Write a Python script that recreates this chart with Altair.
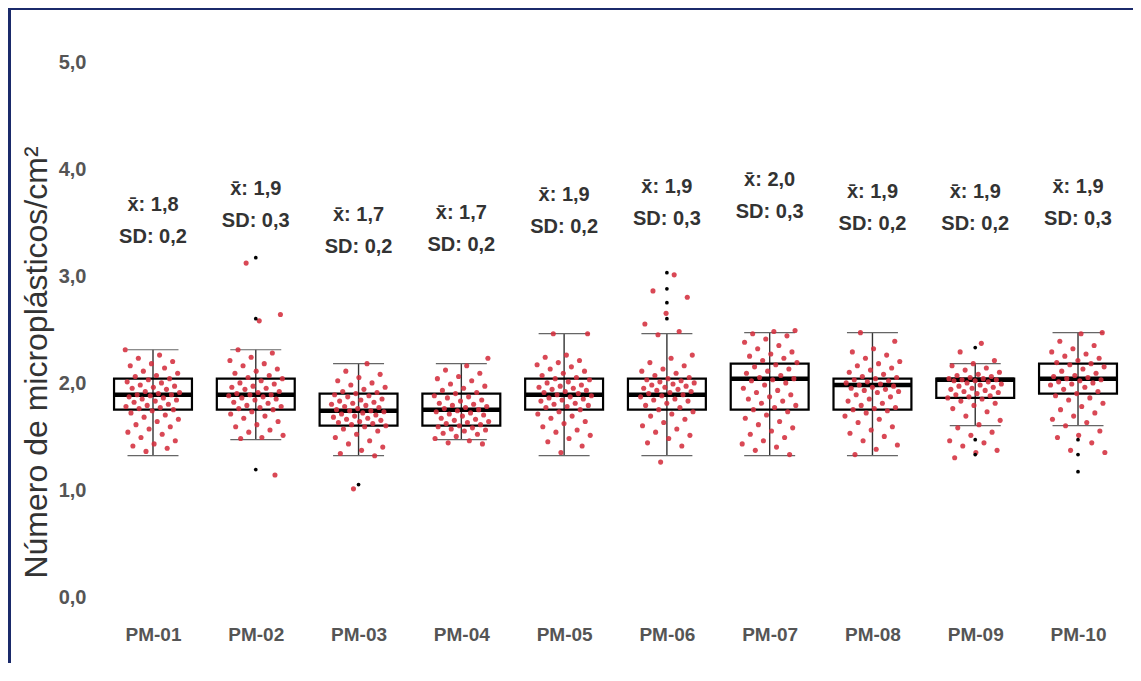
import json
import altair as alt
import pandas as pd

# ---------------- data ----------------
categories = ["PM-01", "PM-02", "PM-03", "PM-04", "PM-05",
              "PM-06", "PM-07", "PM-08", "PM-09", "PM-10"]

lower_whisker = [1.33, 1.48, 1.33, 1.48, 1.33, 1.33, 1.33, 1.33, 1.61, 1.61]
q1 = [1.76, 1.76, 1.61, 1.61, 1.76, 1.76, 1.76, 1.76, 1.87, 1.91]
median = [1.90, 1.90, 1.75, 1.76, 1.90, 1.90, 2.05, 1.99, 2.04, 2.05]
q3 = [2.05, 2.05, 1.91, 1.91, 2.05, 2.05, 2.19, 2.05, 2.05, 2.19]
upper_whisker = [2.32, 2.32, 2.19, 2.19, 2.47, 2.47, 2.48, 2.48, 2.19, 2.48]

mean_vals = [1.8, 1.9, 1.7, 1.7, 1.9, 1.9, 2.0, 1.9, 1.9, 1.9]
sd_vals = [0.2, 0.3, 0.2, 0.2, 0.2, 0.3, 0.3, 0.2, 0.2, 0.3]
annot_y = [3.67, 3.82, 3.58, 3.60, 3.77, 3.84, 3.91, 3.79, 3.79, 3.84]

pm01 = [2.32, 2.27, 2.24, 2.21, 2.19, 2.17, 2.15, 2.12, 2.10, 2.08, 2.07, 2.05, 2.04, 2.02,
        2.01, 1.99, 1.98, 1.97, 1.96, 1.95, 1.93, 1.92, 1.91, 1.90, 1.90, 1.89, 1.88, 1.87,
        1.86, 1.85, 1.84, 1.83, 1.81, 1.80, 1.79, 1.78, 1.77, 1.76, 1.75, 1.73, 1.71, 1.69,
        1.67, 1.65, 1.62, 1.60, 1.58, 1.55, 1.53, 1.50, 1.47, 1.44, 1.42, 1.40, 1.37]
pm02 = [3.13, 2.65, 2.59, 2.32, 2.29, 2.25, 2.22, 2.19, 2.17, 2.14, 2.12, 2.10, 2.08, 2.06,
        2.05, 2.03, 2.01, 2.00, 1.98, 1.97, 1.96, 1.95, 1.93, 1.92, 1.91, 1.90, 1.90, 1.89,
        1.88, 1.87, 1.86, 1.85, 1.83, 1.82, 1.80, 1.79, 1.78, 1.77, 1.76, 1.74, 1.72, 1.70,
        1.68, 1.65, 1.62, 1.60, 1.57, 1.55, 1.52, 1.50, 1.49, 1.15]
pm03 = [2.19, 2.12, 2.09, 2.06, 2.03, 2.01, 1.99, 1.97, 1.95, 1.93, 1.92, 1.91, 1.90, 1.89,
        1.88, 1.86, 1.85, 1.84, 1.83, 1.82, 1.81, 1.80, 1.79, 1.78, 1.77, 1.76, 1.75, 1.75,
        1.74, 1.73, 1.72, 1.71, 1.70, 1.69, 1.68, 1.67, 1.66, 1.65, 1.64, 1.63, 1.62, 1.61,
        1.60, 1.58, 1.56, 1.53, 1.50, 1.47, 1.44, 1.41, 1.38, 1.35, 1.33, 1.02]
pm04 = [2.24, 2.17, 2.13, 2.10, 2.07, 2.05, 2.03, 2.00, 1.98, 1.96, 1.94, 1.92, 1.91, 1.89,
        1.88, 1.87, 1.85, 1.84, 1.82, 1.81, 1.80, 1.79, 1.78, 1.77, 1.76, 1.75, 1.74, 1.73,
        1.72, 1.71, 1.70, 1.68, 1.67, 1.66, 1.65, 1.64, 1.63, 1.62, 1.61, 1.60, 1.59, 1.58,
        1.57, 1.56, 1.54, 1.53, 1.51, 1.49, 1.47, 1.45, 1.44]
pm05 = [2.47, 2.47, 2.27, 2.25, 2.22, 2.20, 2.18, 2.16, 2.14, 2.12, 2.10, 2.08, 2.06, 2.05,
        2.04, 2.02, 2.01, 1.99, 1.98, 1.97, 1.96, 1.95, 1.94, 1.93, 1.92, 1.91, 1.90, 1.89,
        1.88, 1.87, 1.86, 1.85, 1.84, 1.82, 1.81, 1.80, 1.79, 1.78, 1.76, 1.74, 1.72, 1.70,
        1.68, 1.65, 1.63, 1.60, 1.57, 1.55, 1.52, 1.49, 1.46, 1.42, 1.36]
pm06 = [3.02, 2.87, 2.81, 2.66, 2.56, 2.49, 2.46, 2.27, 2.24, 2.20, 2.17, 2.14, 2.12, 2.10,
        2.08, 2.06, 2.05, 2.04, 2.03, 2.02, 2.01, 2.00, 1.99, 1.98, 1.97, 1.96, 1.95, 1.94,
        1.93, 1.92, 1.91, 1.90, 1.89, 1.88, 1.86, 1.85, 1.84, 1.82, 1.80, 1.78, 1.76, 1.74,
        1.72, 1.70, 1.67, 1.64, 1.61, 1.58, 1.55, 1.52, 1.49, 1.45, 1.42, 1.27]
pm07 = [2.50, 2.49, 2.47, 2.45, 2.42, 2.39, 2.36, 2.33, 2.30, 2.28, 2.26, 2.24, 2.22, 2.20,
        2.18, 2.16, 2.14, 2.12, 2.10, 2.08, 2.06, 2.05, 2.04, 2.03, 2.01, 1.99, 1.96, 1.94,
        1.92, 1.90, 1.88, 1.86, 1.84, 1.82, 1.80, 1.78, 1.76, 1.74, 1.71, 1.68, 1.65, 1.62,
        1.59, 1.56, 1.53, 1.50, 1.47, 1.44, 1.41, 1.38, 1.34]
pm08 = [2.48, 2.40, 2.33, 2.30, 2.27, 2.24, 2.21, 2.19, 2.17, 2.15, 2.13, 2.11, 2.09, 2.07,
        2.06, 2.05, 2.04, 2.03, 2.02, 2.01, 2.00, 1.99, 1.98, 1.97, 1.96, 1.95, 1.94, 1.93,
        1.92, 1.90, 1.88, 1.86, 1.84, 1.82, 1.80, 1.78, 1.77, 1.76, 1.75, 1.73, 1.70, 1.67,
        1.64, 1.60, 1.57, 1.54, 1.51, 1.47, 1.43, 1.39, 1.34]
pm09 = [2.38, 2.30, 2.22, 2.19, 2.17, 2.15, 2.13, 2.11, 2.09, 2.08, 2.07, 2.06, 2.05, 2.05,
        2.04, 2.04, 2.03, 2.03, 2.02, 2.01, 2.00, 1.99, 1.98, 1.97, 1.96, 1.95, 1.94, 1.93,
        1.92, 1.91, 1.90, 1.89, 1.88, 1.87, 1.86, 1.84, 1.82, 1.80, 1.77, 1.74, 1.70, 1.66,
        1.62, 1.59, 1.55, 1.52, 1.47, 1.45, 1.42, 1.38, 1.36, 1.31]
pm10 = [2.48, 2.47, 2.40, 2.36, 2.33, 2.30, 2.28, 2.26, 2.24, 2.22, 2.20, 2.19, 2.18, 2.16,
        2.14, 2.12, 2.10, 2.08, 2.07, 2.06, 2.05, 2.04, 2.03, 2.02, 2.01, 2.00, 1.99, 1.97,
        1.95, 1.93, 1.91, 1.89, 1.87, 1.85, 1.82, 1.79, 1.76, 1.73, 1.70, 1.67, 1.64, 1.61,
        1.56, 1.52, 1.50, 1.45, 1.38, 1.36]
points = [pm01, pm02, pm03, pm04, pm05, pm06, pm07, pm08, pm09, pm10]

outliers = [[], [3.18, 2.61, 1.20], [1.06], [], [], [3.04, 2.89, 2.76, 2.61],
            [], [], [2.34, 1.48, 1.34], [1.48, 1.34, 1.18]]

# ---------------- tables ----------------
def fmt(v):
    return f"{v:.1f}".replace(".", ",")

box_df = pd.DataFrame({
    "cat": categories, "pos": list(range(len(categories))),
    "lower": lower_whisker, "q1": q1, "median": median, "q3": q3, "upper": upper_whisker,
    "mean_txt": ["x\u0304: " + fmt(v) for v in mean_vals],
    "sd_txt": ["SD: " + fmt(v) for v in sd_vals],
    "annot_y": annot_y,
})

rows = []
for g, vals in enumerate(points):
    for k, v in enumerate(vals):
        rows.append({"pos": g, "k": k + 7 * g, "value": v})
pts_df = pd.DataFrame(rows)

out_rows = [{"pos": g, "value": v} for g, vals in enumerate(outliers) for v in vals]
out_df = pd.DataFrame(out_rows)

# ---------------- layout ----------------
W, H = 1041, 610
PAD_L, PAD_B = 84, 45
x_scale = alt.Scale(domain=[-0.5935, 9.535], nice=False, zero=False)
y_scale = alt.Scale(domain=[-0.187, 5.514], nice=False, zero=False)
LBL_FONT = "Liberation Sans Narrow, Liberation Sans, Arial"

x_axis = alt.Axis(values=list(range(len(categories))),
                  labelExpr=f"{json.dumps(categories)}[datum.value]",
                  title=None, grid=False, domain=False, ticks=False,
                  labelFont=LBL_FONT, labelFontSize=19, labelFontWeight="bold",
                  labelColor="#555555", labelPadding=7)
y_axis = alt.Axis(values=[0, 1, 2, 3, 4, 5],
                  labelExpr="replace(format(datum.value, '.1f'), '.', ',')",
                  title="Número de microplásticos/cm²",
                  grid=False, domain=False, ticks=False,
                  labelFont=LBL_FONT, labelFontSize=20, labelFontWeight="bold",
                  labelColor="#555555", labelPadding=6,
                  titleFont="Liberation Sans, Arial", titleFontSize=32,
                  titleFontWeight="normal", titleColor="#333333",
                  titleX=-56, titleY=354, titleAngle=270,
                  titleAlign="center", titleBaseline="middle")


def X(field):
    return alt.X(field, scale=x_scale, axis=x_axis)


def Y(field):
    return alt.Y(field, scale=y_scale, axis=y_axis)


base = alt.Chart(box_df)

whisker = base.mark_rule(color="#333333", strokeWidth=1.4).encode(
    x=X("pos:Q"), y=Y("lower:Q"), y2="upper:Q",
)

caps_hi = base.transform_calculate(
    cl="datum.pos - 0.248", cr="datum.pos + 0.248"
).mark_rule(color="#666666", strokeWidth=1.2).encode(
    x=X("cl:Q"), x2="cr:Q", y=Y("upper:Q"),
)
caps_lo = base.transform_calculate(
    cl="datum.pos - 0.248", cr="datum.pos + 0.248"
).mark_rule(color="#666666", strokeWidth=1.2).encode(
    x=X("cl:Q"), x2="cr:Q", y=Y("lower:Q"),
)

box = base.transform_calculate(
    bl="datum.pos - 0.379", br="datum.pos + 0.379"
).mark_rect(fill="white", fillOpacity=0, stroke="black", strokeWidth=2.2).encode(
    x=X("bl:Q"), x2="br:Q", y=Y("q1:Q"), y2="q3:Q",
)

med = base.transform_calculate(
    bl="datum.pos - 0.379", br="datum.pos + 0.379"
).mark_rule(color="black", strokeWidth=4.5).encode(
    x=X("bl:Q"), x2="br:Q", y=Y("median:Q"),
)

# deterministic horizontal spread (layout only), +-0.27 category units
jit = alt.Chart(pts_df).transform_calculate(
    xj="datum.pos + ((datum.k * 0.6180339887) % 1 - 0.5) * 0.54"
).mark_circle(size=26, color="#d42f3d", opacity=0.88).encode(
    x=X("xj:Q"), y=Y("value:Q"),
)

outl = alt.Chart(out_df).mark_circle(size=14, color="black", opacity=1).encode(
    x=X("pos:Q"), y=Y("value:Q"),
)

TXT = dict(font=LBL_FONT, fontSize=20, fontWeight="bold", color="#333333",
           align="center", baseline="middle")
mean_t = base.mark_text(**TXT).encode(
    x=X("pos:Q"), y=Y("annot_y:Q"), text="mean_txt:N",
)
sd_t = base.mark_text(dy=32, **TXT).encode(
    x=X("pos:Q"), y=Y("annot_y:Q"), text="sd_txt:N",
)

frame_top = alt.Chart(box_df).mark_rule(color="#1b2a6b", strokeWidth=2).encode(
    x=alt.value(-PAD_L), x2=alt.value(W), y=alt.value(1)
)
frame_left = alt.Chart(box_df).mark_rule(color="#1b2a6b", strokeWidth=2).encode(
    x=alt.value(-PAD_L + 1.5), y=alt.value(0), y2=alt.value(H + PAD_B)
)

chart = alt.layer(
    whisker, caps_hi, caps_lo, box, med, jit, outl, mean_t, sd_t, frame_top, frame_left
).properties(
    width=W, height=H,
    autosize=alt.AutoSizeParams(type="none"),
    padding={"left": PAD_L, "top": 0, "right": 0, "bottom": PAD_B},
    background="white",
).configure_view(stroke=None)

chart.save("out.html", embed_options={"renderer": "svg", "actions": False})
